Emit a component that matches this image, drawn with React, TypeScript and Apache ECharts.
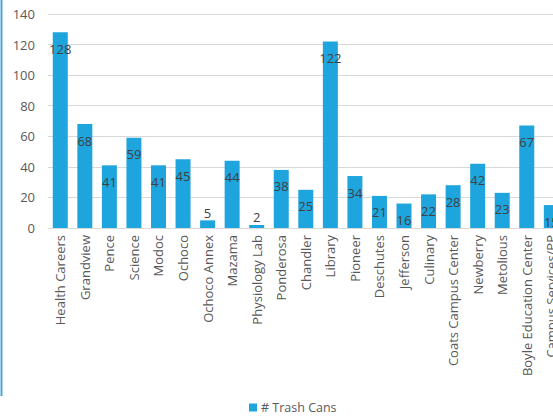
import React, { useEffect, useRef } from "react";
import * as echarts from "echarts";

const categories = [
  "Health Careers", "Grandview", "Pence", "Science", "Modoc", "Ochoco", "Ochoco Annex",
  "Mazama", "Physiology Lab", "Ponderosa", "Chandler", "Library", "Pioneer", "Deschutes",
  "Jefferson", "Culinary", "Coats Campus Center", "Newberry", "Metolious",
  "Boyle Education Center", "Campus Services/PP",
];
const trashCans = [128, 68, 41, 59, 41, 45, 5, 44, 2, 38, 25, 122, 34, 21, 16, 22, 28, 42, 23, 67, 15];
const yTicks = { min: 0, max: 140, interval: 20 };
const seriesName = "# Trash Cans";

const FONT = "'Open Sans', 'Noto Sans', sans-serif";

export default function App() {
  const ref = useRef<HTMLDivElement>(null);
  useEffect(() => {
    if (!ref.current) return;
    const chart = echarts.init(ref.current, undefined, { renderer: "svg" });
    chart.setOption({
      animation: false,
      backgroundColor: "#ffffff",
      textStyle: { fontFamily: FONT },
      grid: { left: 48, top: 14, width: 515.6, height: 214, containLabel: false },
      legend: {
        data: [seriesName],
        left: 244,
        top: 396,
        itemWidth: 8,
        itemHeight: 8,
        itemGap: 4,
        icon: "rect",
        textStyle: { fontFamily: FONT, fontSize: 12.5, color: "#595959", padding: [0, 0, 0, -1] },
      },
      xAxis: {
        type: "category",
        data: categories,
        axisLine: { show: true, lineStyle: { color: "#d9d9d9", width: 1 } },
        axisTick: { show: false },
        axisLabel: {
          rotate: 90,
          interval: 0,
          margin: 7,
          fontFamily: FONT,
          fontSize: 13,
          color: "#595959",
        },
      },
      yAxis: {
        type: "value",
        min: yTicks.min,
        max: yTicks.max,
        interval: yTicks.interval,
        axisLine: { show: false },
        axisTick: { show: false },
        splitLine: { lineStyle: { color: "#d9d9d9", width: 1 } },
        axisLabel: { fontFamily: FONT, fontSize: 13, color: "#595959", margin: 13 },
      },
      series: [
        {
          name: seriesName,
          type: "bar",
          barWidth: 15,
          itemStyle: { color: "#1fa5de" },
          data: trashCans.map((v) =>
            v < 10
              ? { value: v, label: { position: "top", distance: 1 } }
              : v
          ),
          label: {
            show: true,
            position: "insideTop",
            distance: 10,
            fontFamily: FONT,
            fontSize: 13,
            color: "#404040",
          },
        },
      ],
      graphic: [
        {
          type: "line",
          shape: { x1: 1.5, y1: 0, x2: 1.5, y2: 396 },
          style: { stroke: "#4ba3d6", lineWidth: 2 },
        },
      ],
    });
    return () => chart.dispose();
  }, []);
  return (
    <div style={{ position: "fixed", left: 0, top: 0, width: 553, height: 416, overflow: "hidden", background: "#fff" }}>
      <div ref={ref} style={{ width: 570, height: 416 }} />
    </div>
  );
}
